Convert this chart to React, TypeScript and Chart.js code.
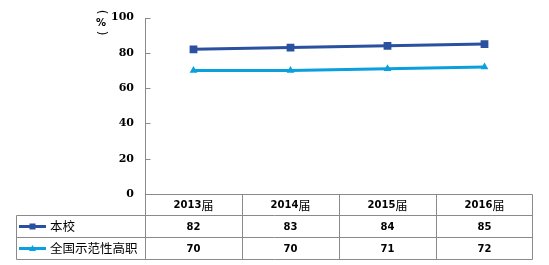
import React, { useEffect, useRef } from "react";
import { Chart, registerables } from "chart.js";

Chart.register(...registerables);

const categories = ["2013届", "2014届", "2015届", "2016届"];
const seriesNames = ["本校", "全国示范性高职"];
const schoolValues = [82, 83, 84, 85];
const nationalValues = [70, 70, 71, 72];
const yMin = 0;
const yMax = 100;
const yStep = 20;
const yUnit = "%";

const seriesColors = ["#2A50A0", "#0AA0DE"];
const seriesPoints = ["rect", "triangle"];
const gridColor = "#8A8A8A";

const tablePlugin = {
  id: "dataTable",
  afterDraw(chart: any) {
    const ctx = chart.ctx;
    const area = chart.chartArea;
    const xs = chart.scales.x;
    const ys = chart.scales.y;
    const left = Math.round(area.left) + 0.5;
    const right = Math.round(area.right) - 0.5;
    const top = Math.round(area.top);
    const bottom = Math.round(area.bottom) + 0.5;
    const rowH = [21, 22, 22];
    const r1 = bottom + rowH[0];
    const r2 = r1 + rowH[1];
    const r3 = r2 + rowH[2];
    const legLeft = 16.5;

    ctx.save();
    ctx.strokeStyle = gridColor;
    ctx.lineWidth = 1;
    ctx.beginPath();
    ctx.moveTo(left, top);
    ctx.lineTo(left, r3);
    for (let v = yMin; v <= yMax; v += yStep) {
      const y = Math.round(ys.getPixelForValue(v)) + 0.5;
      ctx.moveTo(left, y);
      ctx.lineTo(left + 5, y);
    }
    ctx.moveTo(left, bottom);
    ctx.lineTo(right, bottom);
    [r1, r2, r3].forEach((y) => {
      ctx.moveTo(legLeft, y);
      ctx.lineTo(right, y);
    });
    for (let i = 0; i < categories.length - 1; i++) {
      const xb =
        Math.round((xs.getPixelForValue(i) + xs.getPixelForValue(i + 1)) / 2) + 0.5;
      ctx.moveTo(xb, bottom);
      ctx.lineTo(xb, r3);
    }
    ctx.moveTo(right, bottom);
    ctx.lineTo(right, r3);
    ctx.moveTo(legLeft, r1);
    ctx.lineTo(legLeft, r3);
    ctx.stroke();

    ctx.fillStyle = "#000";
    ctx.textBaseline = "middle";
    categories.forEach((c, i) => {
      const x = xs.getPixelForValue(i);
      const m = c.match(/^(\d+)(.*)$/);
      if (m) {
        ctx.font = "bold 10px 'DejaVu Sans'";
        const w1 = ctx.measureText(m[1]).width;
        ctx.font = "12px 'Noto Sans CJK SC'";
        const w2 = ctx.measureText(m[2]).width;
        const start = x - (w1 + w2) / 2;
        ctx.textAlign = "left";
        ctx.font = "bold 10px 'DejaVu Sans'";
        ctx.fillText(m[1], start, bottom + rowH[0] / 2 + 0.5);
        ctx.font = "12px 'Noto Sans CJK SC'";
        ctx.fillText(m[2], start + w1, bottom + rowH[0] / 2);
      } else {
        ctx.textAlign = "center";
        ctx.font = "bold 10px 'DejaVu Sans'";
        ctx.fillText(c, x, bottom + rowH[0] / 2);
      }
    });

    const rows = [schoolValues, nationalValues];
    const rowTops = [r1, r2];
    rows.forEach((vals, ri) => {
      const cy = rowTops[ri] + rowH[ri + 1] / 2;
      ctx.font = "bold 10px 'DejaVu Sans'";
      ctx.textAlign = "center";
      ctx.fillStyle = "#000";
      vals.forEach((v, i) => {
        ctx.fillText(String(v), xs.getPixelForValue(i), cy + 0.5);
      });
      const color = seriesColors[ri];
      ctx.strokeStyle = color;
      ctx.lineWidth = 3;
      ctx.beginPath();
      ctx.moveTo(19, cy);
      ctx.lineTo(46, cy);
      ctx.stroke();
      ctx.fillStyle = color;
      const mx = 32.5;
      if (seriesPoints[ri] === "rect") {
        ctx.fillRect(mx - 3, cy - 3, 6, 6);
      } else {
        ctx.beginPath();
        ctx.moveTo(mx, cy - 3.5);
        ctx.lineTo(mx + 3.5, cy + 2.5);
        ctx.lineTo(mx - 3.5, cy + 2.5);
        ctx.closePath();
        ctx.fill();
      }
      ctx.fillStyle = "#000";
      ctx.textAlign = "left";
      ctx.font = "12.5px 'Noto Sans CJK SC'";
      ctx.fillText(seriesNames[ri], 50, cy);
    });

    // vertical unit label: （%） with rotated brackets
    ctx.fillStyle = "#000";
    ctx.textAlign = "center";
    ctx.textBaseline = "middle";
    ctx.font = "12px 'DejaVu Sans'";
    ctx.save();
    ctx.translate(101, 12);
    ctx.rotate(Math.PI / 2);
    ctx.fillText("(", 0, 0);
    ctx.restore();
    ctx.font = "bold 10px 'DejaVu Sans'";
    ctx.fillText(yUnit, 101, 23);
    ctx.font = "12px 'DejaVu Sans'";
    ctx.save();
    ctx.translate(101, 33);
    ctx.rotate(Math.PI / 2);
    ctx.fillText(")", 0, 0);
    ctx.restore();
    ctx.restore();
  },
};

export default function App() {
  const ref = useRef<HTMLCanvasElement | null>(null);
  useEffect(() => {
    document.body.style.margin = "0";
    const chart = new Chart(ref.current as HTMLCanvasElement, {
      type: "line",
      data: {
        labels: categories,
        datasets: [
          {
            label: seriesNames[0],
            data: schoolValues,
            borderColor: seriesColors[0],
            backgroundColor: seriesColors[0],
            borderWidth: 3,
            pointStyle: "rect",
            pointRadius: 5.5,
            pointBorderWidth: 0,
            tension: 0,
          },
          {
            label: seriesNames[1],
            data: nationalValues,
            borderColor: seriesColors[1],
            backgroundColor: seriesColors[1],
            borderWidth: 3,
            pointStyle: "triangle",
            pointRadius: 4.5,
            pointBorderWidth: 0,
            tension: 0,
          },
        ],
      },
      options: {
        responsive: false,
        animation: false,
        layout: { padding: { top: 7.4, right: 16, bottom: 71, left: 0 } },
        plugins: { legend: { display: false }, tooltip: { enabled: false } },
        scales: {
          x: { display: false, offset: true },
          y: {
            min: yMin,
            max: yMax,
            ticks: {
              stepSize: yStep,
              color: "#000",
              padding: 11,
              font: { family: "'DejaVu Serif'", size: 11, weight: "bold" },
            },
            grid: { display: false, drawTicks: false },
            border: { display: false },
            afterFit: (s: any) => {
              s.width = 145;
            },
          },
        },
      },
      plugins: [tablePlugin],
    });
    return () => chart.destroy();
  }, []);
  return <canvas ref={ref} width={549} height={265} style={{ display: "block" }} />;
}
